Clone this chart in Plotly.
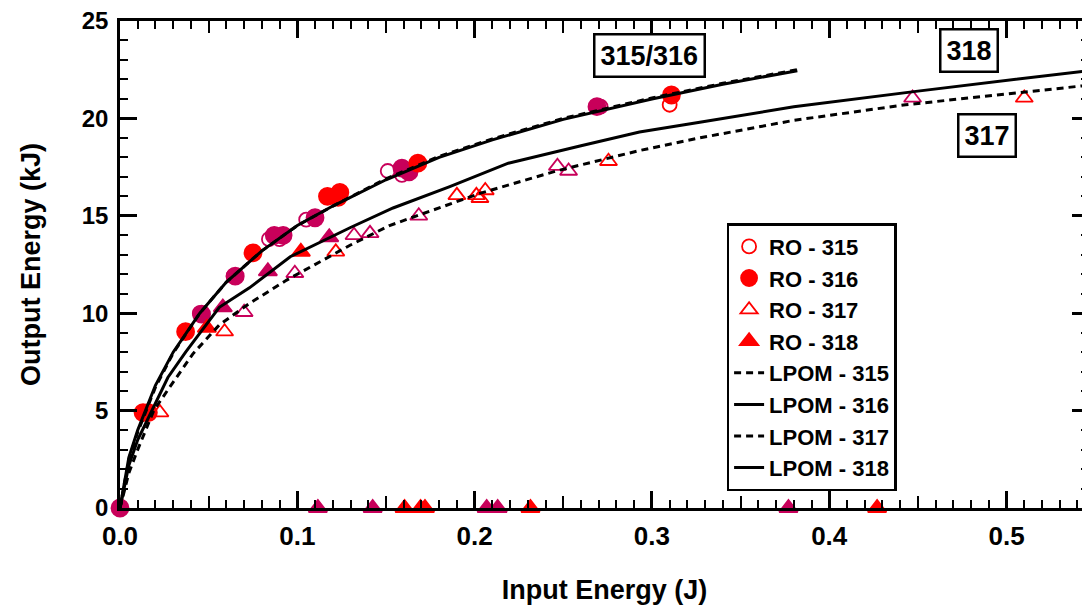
import plotly.graph_objects as go

# ---- data ----
# RO - 315 (open circles), split by marker colour in the original plot
ro315_x_red = [0.310]
ro315_y_red = [20.7]
ro315_x_mag = [0.0, 0.045, 0.064, 0.084, 0.090, 0.105, 0.151, 0.159, 0.271]
ro315_y_mag = [0.0, 10.0, 11.9, 13.8, 13.8, 14.8, 17.3, 17.1, 20.6]

# RO - 316 (filled circles)
ro316_x_red = [0.013, 0.016, 0.037, 0.075, 0.117, 0.124, 0.123, 0.168, 0.311]
ro316_y_red = [4.9, 4.9, 9.05, 13.1, 16.0, 16.2, 15.95, 17.7, 21.2]
ro316_x_mag = [0.0, 0.046, 0.065, 0.087, 0.092, 0.110, 0.159, 0.163, 0.269]
ro316_y_mag = [0.0, 9.95, 11.9, 14.0, 14.0, 14.9, 17.45, 17.25, 20.6]

# RO - 317 (open triangles)
ro317_x_red = [0.0225, 0.059, 0.1217, 0.190, 0.201, 0.203, 0.206, 0.2755, 0.510]
ro317_y_red = [4.9, 9.05, 13.15, 16.05, 16.05, 15.9, 16.3, 17.8, 21.05]
ro317_x_mag = [0.070, 0.0986, 0.132, 0.141, 0.1685, 0.2467, 0.253, 0.447]
ro317_y_mag = [10.05, 12.05, 14.0, 14.1, 15.0, 17.55, 17.3, 21.05]

# RO - 318 (filled triangles)
ro318_x_red = [0.049, 0.102, 0.1605, 0.1695, 0.172, 0.2315, 0.427]
ro318_y_red = [9.25, 13.15, 0.0, 0.0, 0.0, 0.0, 0.0]
ro318_x_mag = [0.058, 0.0834, 0.118, 0.1116, 0.1425, 0.2068, 0.213, 0.377]
ro318_y_mag = [10.3, 12.15, 13.9, 0.0, 0.0, 0.0, 0.0, 0.0]

# LPOM model curves
lpom315_x = [0, 0.005, 0.01, 0.02, 0.03, 0.045, 0.06, 0.08, 0.1, 0.12, 0.15, 0.18, 0.21, 0.25, 0.3, 0.34, 0.382]
lpom315_y = [0, 2.5, 3.9, 6.2, 7.95, 10.0, 11.6, 13.2, 14.5, 15.5, 16.9, 18.05, 18.95, 20.0, 21.05, 21.8, 22.5]
lpom316_x = [0, 0.005, 0.01, 0.02, 0.03, 0.045, 0.06, 0.08, 0.1, 0.12, 0.15, 0.18, 0.21, 0.25, 0.3, 0.34, 0.382]
lpom316_y = [0, 2.6, 4.0, 6.3, 8.0, 10.0, 11.6, 13.2, 14.5, 15.5, 16.85, 18.0, 18.9, 19.95, 21.0, 21.75, 22.45]
lpom317_x = [0, 0.005, 0.01, 0.019, 0.028, 0.041, 0.056, 0.073, 0.094, 0.13, 0.152, 0.186, 0.203, 0.246, 0.293, 0.327, 0.38, 0.443, 0.546]
lpom317_y = [0, 1.8, 3.0, 5.0, 6.2, 7.9, 9.4, 10.5, 11.7, 13.5, 14.5, 15.6, 16.15, 17.3, 18.35, 19.0, 19.9, 20.7, 21.7]
lpom318_x = [0, 0.005, 0.01, 0.018, 0.027, 0.037, 0.056, 0.073, 0.083, 0.096, 0.13, 0.154, 0.186, 0.219, 0.26, 0.293, 0.327, 0.38, 0.45, 0.546]
lpom318_y = [0, 2.2, 3.5, 5.0, 6.7, 8.0, 10.3, 11.3, 12.0, 12.9, 14.4, 15.4, 16.5, 17.7, 18.6, 19.3, 19.8, 20.6, 21.4, 22.45]

x_ticks = [0.0, 0.1, 0.2, 0.3, 0.4, 0.5]
x_mid_ticks = [0.05, 0.15, 0.25, 0.35, 0.45]
y_ticks = [0, 5, 10, 15, 20, 25]

RED = "#FF0000"
MAG = "#C8005A"
FONT = "Liberation Sans, Arial, sans-serif"
X_RANGE = [0, 0.5465]

fig = go.Figure()

ro_series = [
    ("RO - 315", ro315_x_red, ro315_y_red, ro315_x_mag, ro315_y_mag, "circle-open", 14),
    ("RO - 316", ro316_x_red, ro316_y_red, ro316_x_mag, ro316_y_mag, "circle", 17),
    ("RO - 317", ro317_x_red, ro317_y_red, ro317_x_mag, ro317_y_mag, "triangle-up-open", 15),
    ("RO - 318", ro318_x_red, ro318_y_red, ro318_x_mag, ro318_y_mag, "triangle-up", 16),
]

# red points carry the legend entry, magenta ones are the same series
for name, xr, yr, xm, ym, sym, size in ro_series:
    fig.add_trace(go.Scatter(x=xm, y=ym, mode="markers", name=name, showlegend=False,
                             legendgroup=name, cliponaxis=False,
                             marker=dict(symbol=sym, size=size, color=MAG,
                                         line=dict(width=1.8, color=MAG))))
for name, xr, yr, xm, ym, sym, size in ro_series:
    fig.add_trace(go.Scatter(x=xr, y=yr, mode="markers", name=name, legendgroup=name,
                             cliponaxis=False,
                             marker=dict(symbol=sym, size=size, color=RED,
                                         line=dict(width=1.8, color=RED))))

lpom = [
    ("LPOM - 315", lpom315_x, lpom315_y, "7px,5px"),
    ("LPOM - 316", lpom316_x, lpom316_y, "solid"),
    ("LPOM - 317", lpom317_x, lpom317_y, "7px,5px"),
    ("LPOM - 318", lpom318_x, lpom318_y, "solid"),
]
for name, x, y, dash in lpom:
    fig.add_trace(go.Scatter(x=x, y=y, mode="lines", name=name,
                             line=dict(color="black", width=3, dash=dash)))

# invisible trace to bring the medium-tick axis to life
fig.add_trace(go.Scatter(x=[0], y=[0], xaxis="x2", mode="markers", showlegend=False,
                         marker=dict(opacity=0), hoverinfo="skip"))

title_font = dict(family=FONT, size=27, color="black", weight="bold")

axis_common = dict(
    showline=True, linecolor="black", linewidth=2.5, mirror="ticks",
    ticks="inside", ticklen=17, tickwidth=2.5, tickcolor="black",
    showgrid=False, zeroline=False, automargin=False,
    ticklabeloverflow="allow",
)

# the page body adds an 8px offset, so the figure is sized to fill the rest
fig.update_layout(
    width=1082, height=600,
    paper_bgcolor="white", plot_bgcolor="white",
    margin=dict(l=112, r=1, t=13, b=100),
    font=dict(family=FONT, color="black"),
    xaxis=dict(
        range=X_RANGE, tickvals=x_ticks, tickformat=".1f",
        tickfont=dict(family=FONT, size=26, color="black", weight="bold"),
        ticklabelstandoff=3,
        minor=dict(dtick=0.01, tick0=0, ticks="inside", ticklen=8, tickwidth=2, tickcolor="black"),
        title=dict(text="Input Energy (J)", standoff=31, font=title_font),
        **axis_common,
    ),
    xaxis2=dict(
        range=X_RANGE, overlaying="x", tickvals=x_mid_ticks,
        ticks="inside", ticklen=12, tickwidth=2, tickcolor="black", showticklabels=False,
        showline=False, showgrid=False, zeroline=False, mirror="ticks", automargin=False,
    ),
    yaxis=dict(
        range=[0, 25], tickvals=y_ticks,
        tickfont=dict(family=FONT, size=24, color="black", weight="bold"),
        ticklabelstandoff=4,
        minor=dict(dtick=1, tick0=0, ticks="inside", ticklen=8, tickwidth=2, tickcolor="black"),
        title=dict(text="Output Energy (kJ)", standoff=34, font=title_font),
        **axis_common,
    ),
    legend=dict(
        x=0.626, y=0.585, xanchor="left", yanchor="top",
        bgcolor="white", bordercolor="black", borderwidth=2.5,
        font=dict(family=FONT, size=22, color="black", weight="bold"),
        tracegroupgap=0, itemwidth=30,
    ),
)

box = dict(showarrow=False, bordercolor="black", borderwidth=2.5, borderpad=5,
           bgcolor="white", font=dict(family=FONT, size=27, color="black", weight="bold"))
fig.add_annotation(x=0.2986, y=23.25, text="315/316", **box)
fig.add_annotation(x=0.479, y=23.5, text="318", **box)
fig.add_annotation(x=0.489, y=19.1, text="317", **box)

fig.write_html("out.html")
